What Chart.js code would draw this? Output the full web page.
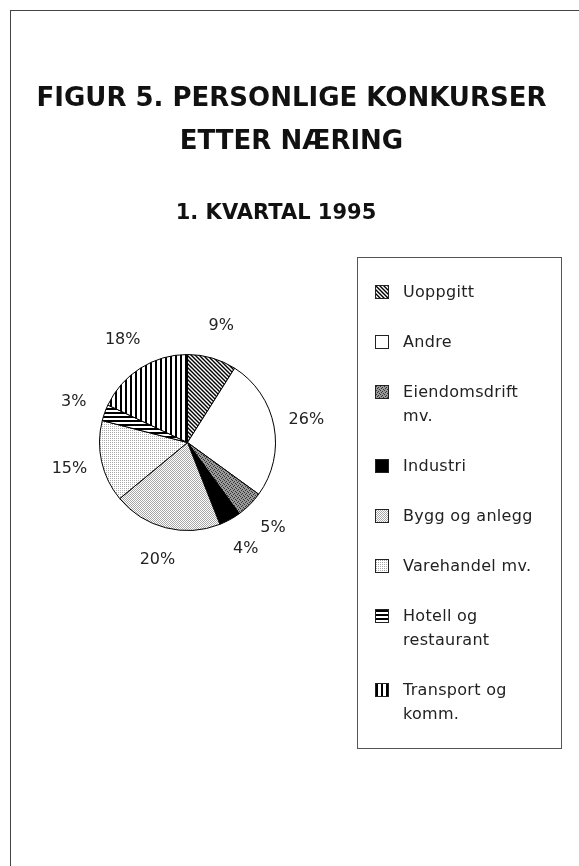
<!DOCTYPE html>
<html>
<head>
<meta charset="utf-8">
<script src="https://cdn.jsdelivr.net/npm/chart.js@4"></script>
<style>
  body { margin: 0; background: #fff; }
  #page { position: relative; width: 579px; height: 866px; overflow: hidden; background: #fff; }
  #frame { position: absolute; left: 10px; top: 10px; right: -5px; bottom: -5px; border-left: 1px solid #444; border-top: 1px solid #444; }
  #chart { position: absolute; left: 0; top: 0; }
  .title { position: absolute; left: 0; width: 579px; text-align: center; font-family: "DejaVu Sans", sans-serif; font-weight: bold; color: #111; }
  #t1 { top: 76px; font-size: 26px; line-height: 43px; padding-left: 2px; }
  #t2 { top: 198px; font-size: 21px; line-height: 28px; padding-left: 0; width: 552px; }
  #legend { position: absolute; left: 357px; top: 257px; width: 205px; height: 492px; border: 1px solid #555; box-sizing: border-box; font-family: "DejaVu Sans", sans-serif; font-size: 16px; color: #222; }
  .item { position: absolute; left: 17px; }
  .item canvas { position: absolute; left: 0; top: 5px; border: 1px solid #222; }
  .item div { position: absolute; left: 28px; top: 0; line-height: 24px; white-space: nowrap; letter-spacing: 0.3px; }
</style>
</head>
<body>
<div id="page">
  <div id="frame"></div>
  <canvas id="chart" width="579" height="866"></canvas>
  <div class="title" id="t1">FIGUR 5. PERSONLIGE KONKURSER<br>ETTER NÆRING</div>
  <div class="title" id="t2">1. KVARTAL 1995</div>
  <div id="legend"></div>
</div>
<script>
// data, clockwise from 12 o'clock
const names = ['Uoppgitt', 'Andre', ['Eiendomsdrift', 'mv.'], 'Industri', 'Bygg og anlegg', 'Varehandel mv.', ['Hotell og', 'restaurant'], ['Transport og', 'komm.']]
const shares = [9, 26, 5, 4, 20, 15, 3, 18]
const pctLabels = ['9%', '26%', '5%', '4%', '20%', '15%', '3%', '18%']

function makePattern(w, h, paint){
  var c = document.createElement('canvas')
  c.width = w
  c.height = h
  var g = c.getContext('2d')
  g.fillStyle = '#fff'
  g.fillRect(0, 0, w, h)
  paint(g)
  return g.createPattern(c, 'repeat')
}

const fills = [
  // diagonal hatch
  makePattern(4, 4, g => {
    g.strokeStyle = '#000'; g.lineWidth = 1.4
    g.beginPath()
    g.moveTo(-1, -1); g.lineTo(5, 5)
    g.moveTo(-1, 3); g.lineTo(1, 5)
    g.moveTo(3, -1); g.lineTo(5, 1)
    g.stroke()
  }),
  '#ffffff',
  // dark stipple
  makePattern(4, 4, g => {
    g.fillStyle = '#999'; g.fillRect(0, 0, 4, 4)
    g.fillStyle = '#333'
    g.fillRect(0, 0, 1, 1); g.fillRect(2, 1, 1, 1); g.fillRect(1, 2, 1, 1); g.fillRect(3, 3, 1, 1)
  }),
  '#000000',
  // medium stipple
  makePattern(2, 2, g => {
    g.fillStyle = '#a8a8a8'
    g.fillRect(0, 0, 1, 1); g.fillRect(1, 1, 1, 1)
  }),
  // light stipple
  makePattern(2, 2, g => {
    g.fillStyle = '#aaaaaa'
    g.fillRect(0, 0, 1, 1)
  }),
  // horizontal lines
  makePattern(1, 4, g => {
    g.fillStyle = '#000'; g.fillRect(0, 0, 1, 2)
  }),
  // vertical lines
  makePattern(5, 1, g => {
    g.fillStyle = '#000'; g.fillRect(0, 0, 2, 1)
  })
]

const pctPlugin = {
  id: 'pct',
  afterDatasetsDraw(chart){
    const ctx = chart.ctx
    const meta = chart.getDatasetMeta(0)
    ctx.save()
    ctx.font = '16px "DejaVu Sans"'
    ctx.fillStyle = '#222'
    ctx.textAlign = 'center'
    ctx.textBaseline = 'middle'
    meta.data.forEach((arc, i) => {
      const p = arc.getProps(['x', 'y', 'startAngle', 'endAngle', 'outerRadius'], true)
      const mid = (p.startAngle + p.endAngle) / 2
      const r = p.outerRadius + 33
      ctx.fillText(pctLabels[i], p.x + Math.cos(mid) * r, p.y + Math.sin(mid) * r)
    })
    ctx.restore()
  }
}

const pieCtx = document.getElementById('chart').getContext('2d')
const chart = new Chart(pieCtx, {
  type: 'pie',
  data: {
    labels: names,
    datasets: [{
      data: shares,
      backgroundColor: fills,
      borderColor: '#000',
      borderWidth: 1
    }]
  },
  options: {
    responsive: false,
    animation: false,
    layout: { padding: { left: 99, right: 303, top: 354, bottom: 335 } },
    plugins: { legend: { display: false }, tooltip: { enabled: false } }
  },
  plugins: [pctPlugin]
})

// legend built from the chart's labels
function buildLegend(){
  const box = document.getElementById('legend')
  let top = 22
  chart.data.labels.forEach((lab, i) => {
    const lines = Array.isArray(lab) ? lab : [lab]
    const item = document.createElement('div')
    item.className = 'item'
    item.style.top = top + 'px'
    const sw = document.createElement('canvas')
    sw.width = 12
    sw.height = 12
    const sctx = sw.getContext('2d')
    sctx.fillStyle = chart.data.datasets[0].backgroundColor[i]
    sctx.fillRect(0, 0, 12, 12)
    const txt = document.createElement('div')
    txt.innerHTML = lines.join('<br>')
    item.appendChild(sw)
    item.appendChild(txt)
    box.appendChild(item)
    top += lines.length * 24 + 26
  })
}
buildLegend()
</script>
</body>
</html>
